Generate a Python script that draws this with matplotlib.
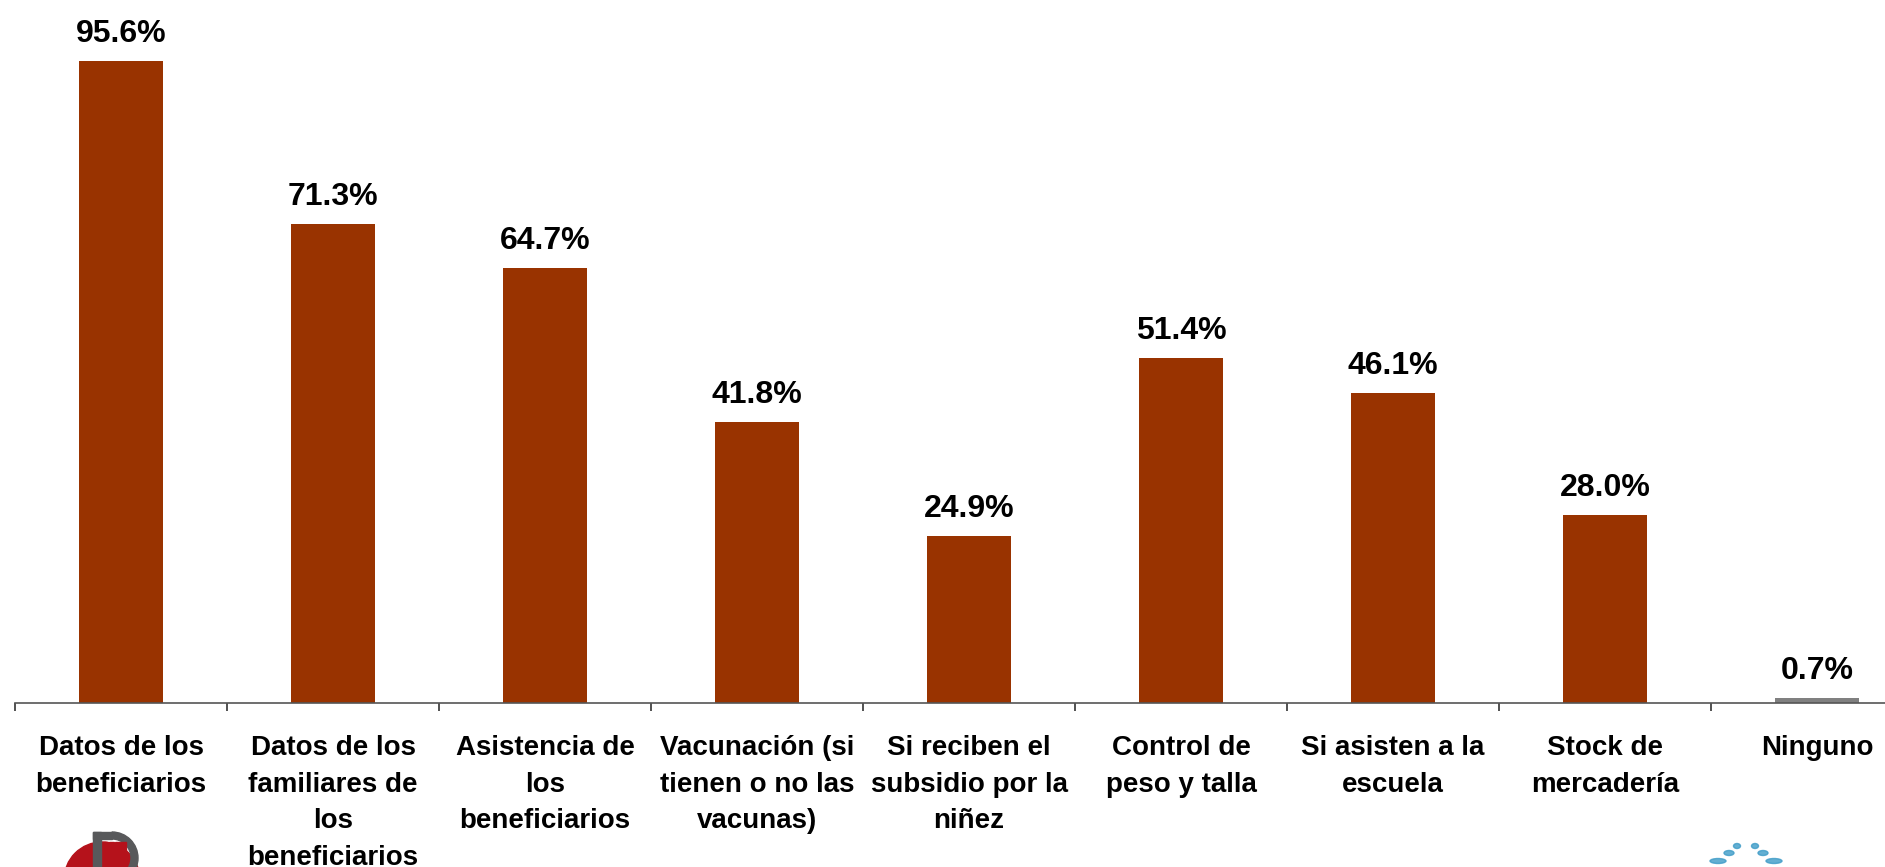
import numpy as np
from matplotlib import pyplot as plt
from matplotlib.patches import Circle, Rectangle, Ellipse, Wedge
import matplotlib as mpl

plt.rcParams['font.family'] = ['Liberation Sans', 'DejaVu Sans']
plt.rcParams['font.weight'] = 'bold'

categories = ['Datos de los\nbeneficiarios',
              'Datos de los\nfamiliares de\nlos\nbeneficiarios',
              'Asistencia de\nlos\nbeneficiarios',
              'Vacunación (si\ntienen o no las\nvacunas)',
              'Si reciben el\nsubsidio por la\nniñez',
              'Control de\npeso y talla',
              'Si asisten a la\nescuela',
              'Stock de\nmercadería',
              'Ninguno']
values = [95.6, 71.3, 64.7, 41.8, 24.9, 51.4, 46.1, 28.0, 0.7]
colors = ['#993300'] * 8 + ['#808080']

W, H = 1885, 867
fig = plt.figure(figsize=(W/100, H/100), dpi=100)
# axes in pixel terms: x0=15, one category = 212 px, y=0 at 703 px, 6.716 px per %
ax = fig.add_axes([15/W, (H-703)/H, 9*212/W, 671.6/H])

x = np.arange(len(values))
ax.bar(x, values, width=0.4, color=colors)
for xi, v in zip(x, values):
    ax.annotate(f'{v:.1f}%', (xi, v), xytext=(0, 13.7), textcoords='offset points',
                ha='center', va='baseline', fontsize=23, fontweight='bold')

ax.set_xlim(-0.5, 8.5)
ax.set_ylim(0, 100)
for s in ['left', 'right', 'top']:
    ax.spines[s].set_visible(False)
ax.spines['bottom'].set_color('#555555')
ax.spines['bottom'].set_linewidth(1.2)
ax.set_yticks([])
ax.set_xticks(x)
ax.set_xticklabels(categories, fontsize=20, fontweight='bold', linespacing=1.53)
ax.tick_params(axis='x', which='major', length=0, pad=23)
ax.set_xticks(np.arange(-0.5, 9.0, 1.0), minor=True)
ax.tick_params(axis='x', which='minor', length=6, width=1.2, color='#333333', direction='out')

# rough logos at the bottom edge
lg = fig.add_axes([0, 0, 1, 1], zorder=-1)
lg.set_xlim(0, W); lg.set_ylim(H, 0); lg.axis('off')
lg.add_patch(Circle((102, 880), 38, color='#b5121b'))
lg.add_patch(Wedge((112, 858), 26, -90, 90, width=7, color='#58595b'))
lg.add_patch(Rectangle((93, 832), 8, 40, color='#58595b'))
lg.add_patch(Rectangle((93, 832), 19, 7, color='#58595b'))
for i in range(4):
    for j in range(i + 1):
        lg.add_patch(Rectangle((103 + 6*i, 842 + 6*j), 5, 5, color='#b5121b'))
for (cx, cy, w) in [(1737, 846, 7), (1755, 846, 7), (1729, 853, 10), (1763, 853, 10), (1718, 861, 16), (1774, 861, 16)]:
    lg.add_patch(Ellipse((cx, cy), w, 5, color='#3d9bc7', alpha=0.8))

plt.savefig('out.png')
